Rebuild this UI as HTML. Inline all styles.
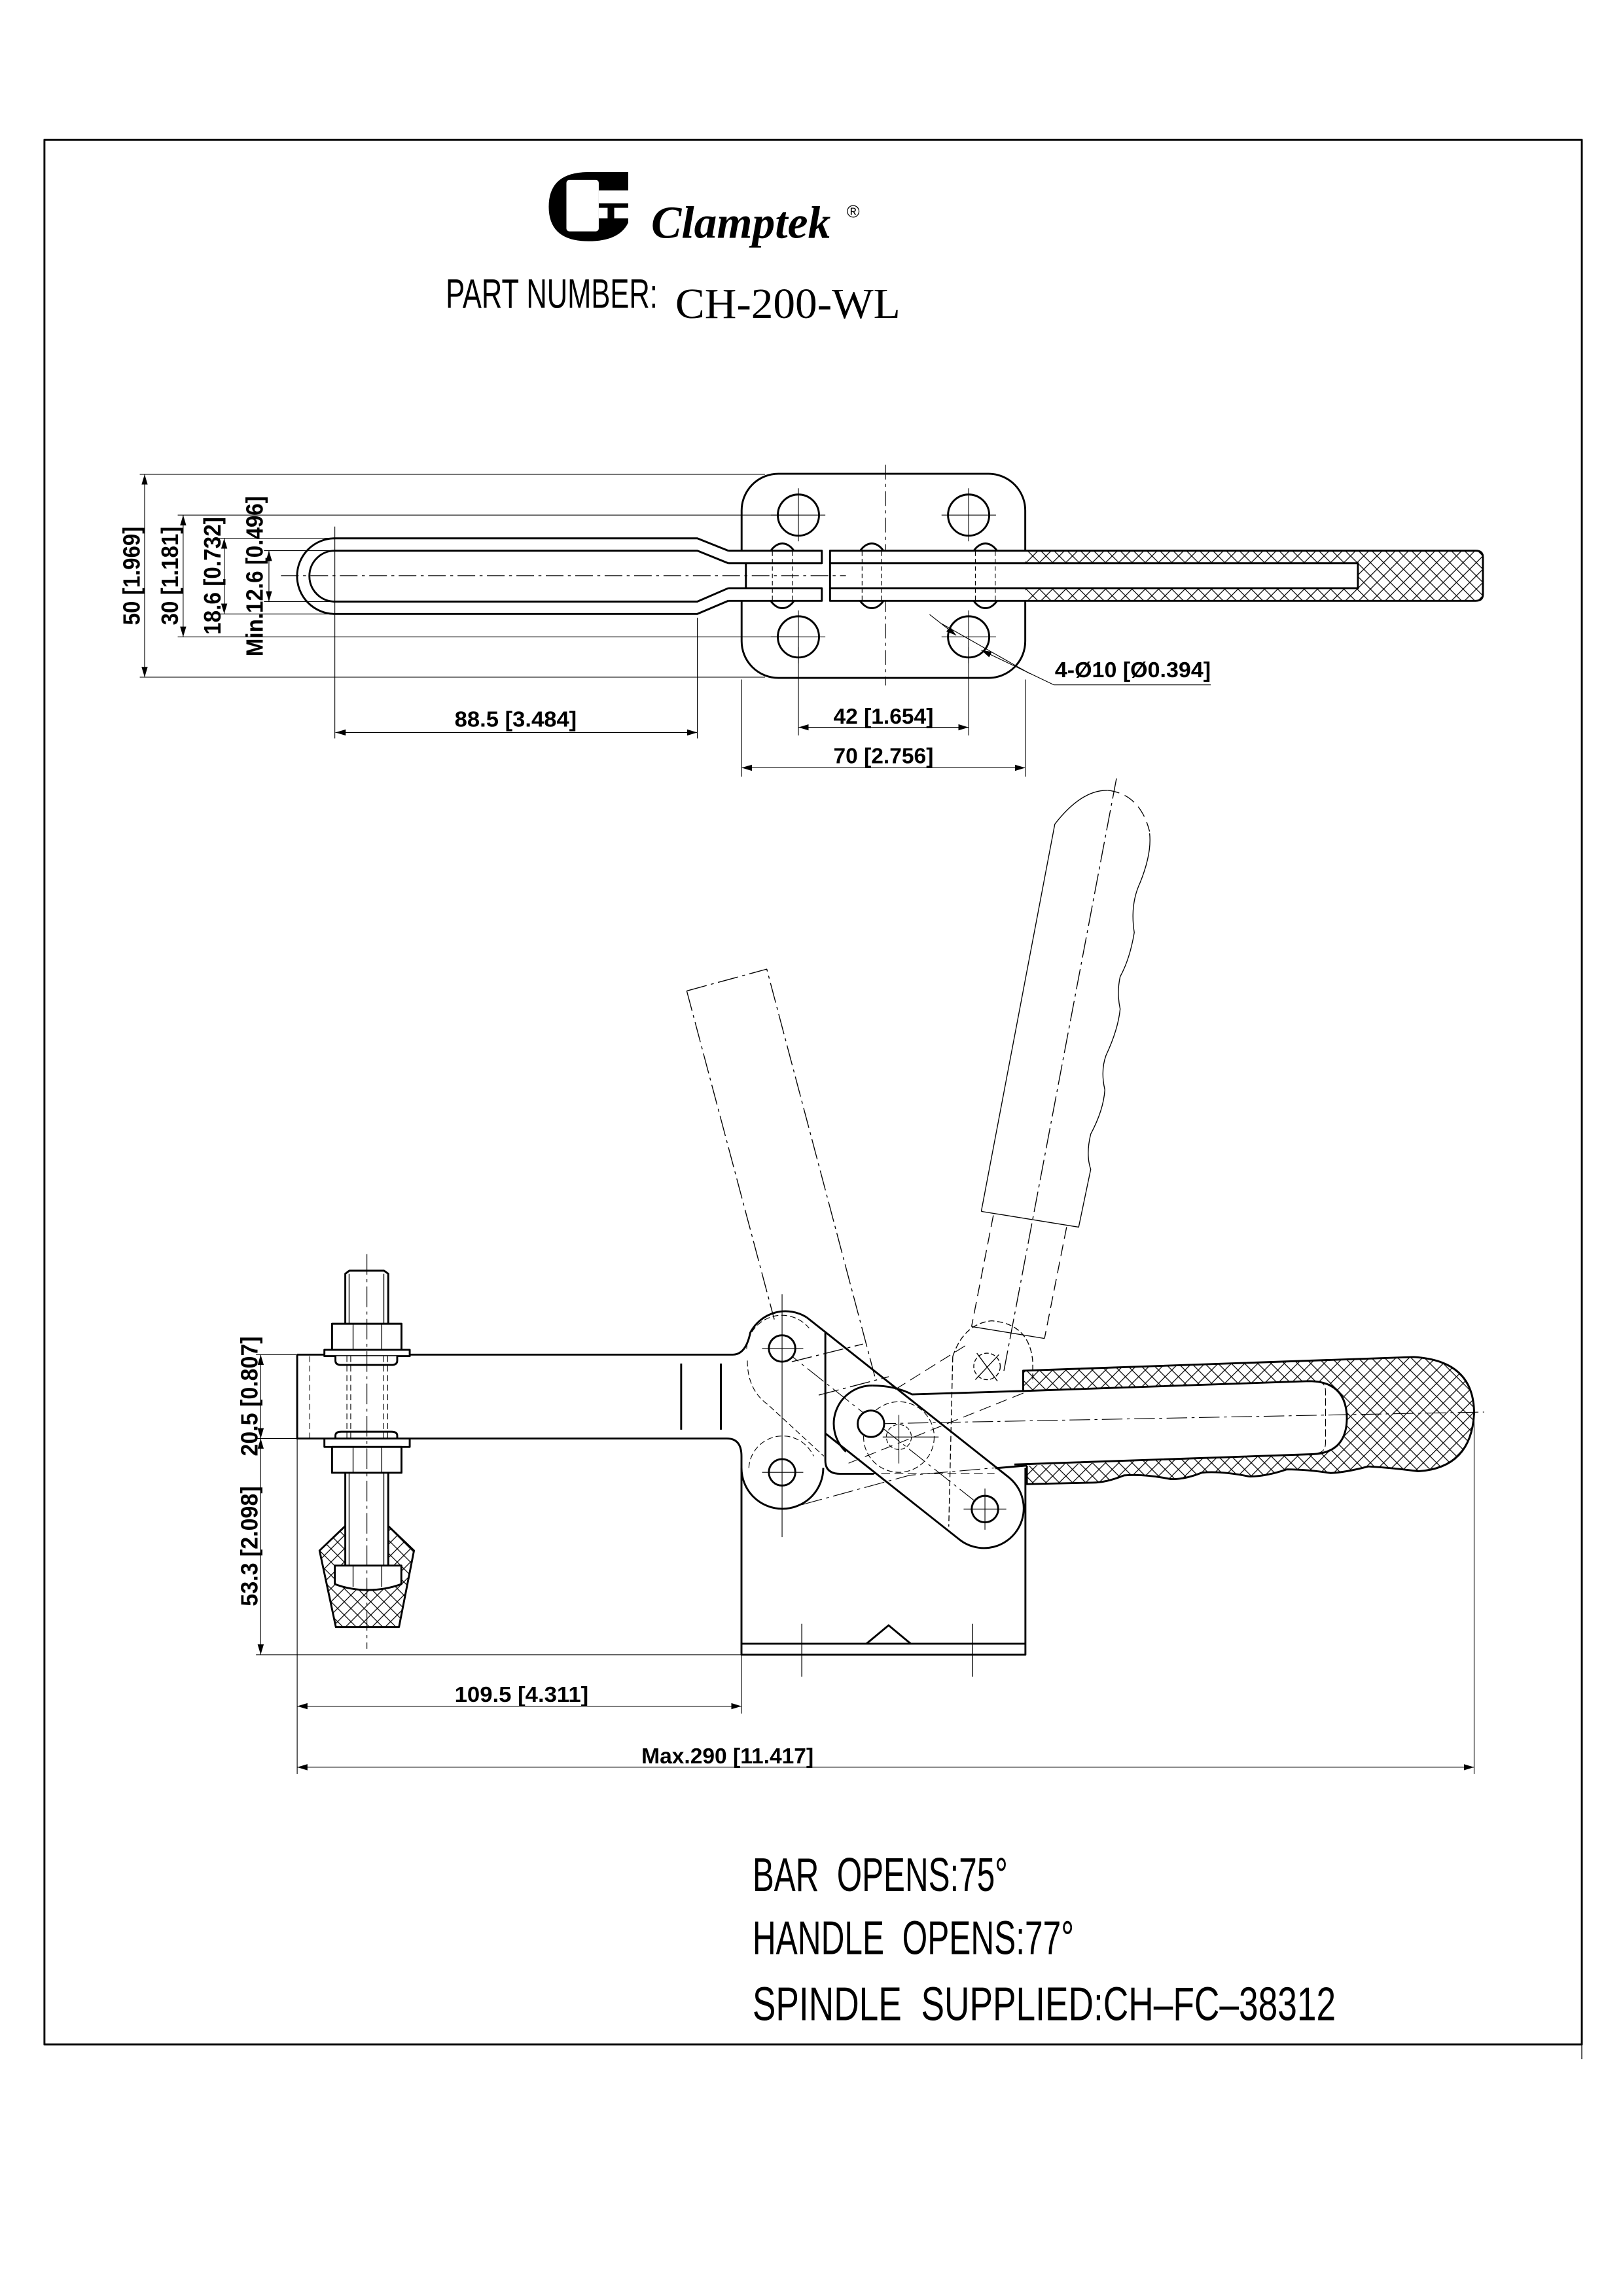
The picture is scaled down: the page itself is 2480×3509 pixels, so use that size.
<!DOCTYPE html>
<html><head><meta charset="utf-8"><style>html,body{margin:0;padding:0;background:#fff}svg{display:block}</style></head>
<body>
<svg xmlns="http://www.w3.org/2000/svg" width="2480" height="3509" viewBox="0 0 1103.2 1561" preserveAspectRatio="none">
<defs>
<pattern id="h" patternUnits="userSpaceOnUse" width="9" height="9">
<path d="M0,0 L9,9 M9,0 L0,9 M-1,8 L1,10 M8,-1 L10,1 M-1,1 L1,-1 M8,10 L10,8" stroke="#000" stroke-width="0.55"/>
</pattern>
<marker id="a" viewBox="0 0 10 6" refX="10" refY="3" markerWidth="7" markerHeight="4.5" orient="auto-start-reverse" markerUnits="userSpaceOnUse"><path d="M0,0 L10,3 L0,6 Z" fill="#000"/></marker>
</defs>
<rect x="0" y="0" width="1103.2" height="1561" fill="#fff"/>
<g fill="none" stroke="#000" stroke-linejoin="round">
<rect x="30.2" y="95" width="1045" height="1295" stroke-width="1.3"/>
<line x1="1075.2" y1="1390" x2="1075.2" y2="1400" stroke-width="0.6"/>

<g stroke-width="0.5">
<line x1="95" y1="322.5" x2="520" y2="322.5"/>
<line x1="95" y1="460.4" x2="520" y2="460.4"/>
<line x1="120.8" y1="350.2" x2="543" y2="350.2"/>
<line x1="120.8" y1="433" x2="543" y2="433"/>
<line x1="149" y1="366" x2="228" y2="366"/>
<line x1="149" y1="417.4" x2="228" y2="417.4"/>
<line x1="179.4" y1="374.4" x2="228" y2="374.4"/>
<line x1="179.4" y1="409" x2="228" y2="409"/>
<line x1="98.3" y1="322.5" x2="98.3" y2="460.4" marker-start="url(#a)" marker-end="url(#a)"/>
<line x1="124.5" y1="350.2" x2="124.5" y2="433" marker-start="url(#a)" marker-end="url(#a)"/>
<line x1="152.4" y1="366" x2="152.4" y2="417.4" marker-start="url(#a)" marker-end="url(#a)"/>
<line x1="182.8" y1="374.4" x2="182.8" y2="409" marker-start="url(#a)" marker-end="url(#a)"/>
<line x1="227.6" y1="358" x2="227.6" y2="502"/>
<line x1="474" y1="420" x2="474" y2="502"/>
<line x1="228" y1="498" x2="474" y2="498" marker-start="url(#a)" marker-end="url(#a)"/>
<line x1="542.7" y1="440" x2="542.7" y2="500"/>
<line x1="658.4" y1="440" x2="658.4" y2="500"/>
<line x1="542.7" y1="494.5" x2="658.4" y2="494.5" marker-start="url(#a)" marker-end="url(#a)"/>
<line x1="504.1" y1="462" x2="504.1" y2="528"/>
<line x1="696.9" y1="462" x2="696.9" y2="528"/>
<line x1="504.1" y1="522" x2="696.9" y2="522" marker-start="url(#a)" marker-end="url(#a)"/>
<line x1="631.9" y1="417.8" x2="650" y2="432" marker-end="url(#a)"/>
<line x1="716.3" y1="465.6" x2="667" y2="442" marker-end="url(#a)"/>
<polyline points="716.3,465.6 823,465.6"/>
<line x1="640" y1="424" x2="700" y2="458"/>
</g>
<rect x="504.1" y="322.1" width="192.8" height="138.8" rx="25" stroke-width="1.3"/>
<line x1="602" y1="316" x2="602" y2="466" stroke-width="0.5" stroke-dasharray="10,3,2,3"/>
<g stroke-width="1.3">
<circle cx="542.7" cy="350.2" r="14"/><circle cx="658.4" cy="350.2" r="14"/>
<circle cx="542.7" cy="433" r="14"/><circle cx="658.4" cy="433" r="14"/>
<ellipse cx="531.8" cy="391.5" rx="12.5" ry="22"/>
<ellipse cx="592.6" cy="391.5" rx="12.5" ry="22"/>
<ellipse cx="669.8" cy="391.5" rx="12.5" ry="22"/>
</g>
<g stroke-width="0.5">
<path d="M524,350.2 H561 M542.7,332 V368 M640,350.2 H677 M658.4,332 V368 M524,433 H561 M542.7,415 V451 M640,433 H677 M658.4,415 V451"/>
</g>
<rect x="498" y="374.4" width="200" height="34.1" fill="#fff" stroke="none"/>
<g stroke-width="1.3">
<path d="M495,374.4 L474,366 L227.6,366 A25.7,25.7 0 0 0 227.6,417.4 L474,417.4 L495,408.5"/>
<path d="M495,382.9 L474,374.4 L227.6,374.4 A17.3,17.3 0 0 0 227.6,409 L474,409 L495,399.9"/>
<path d="M495,374.4 H558.6 V382.9 H495 M495,399.9 H558.6 V408.5 H495"/>
<line x1="507" y1="382.9" x2="507" y2="399.9"/>
<path d="M564.2,374.4 H1003 Q1008,374.4 1008,379 V404 Q1008,408.5 1003,408.5 H564.2 Z"/>
<path d="M564.2,382.9 H923 V399.9 H564.2"/>
</g>
<path d="M696.9,374.4 H1003 Q1008,374.4 1008,379 V404 Q1008,408.5 1003,408.5 H696.9 V399.9 H923 V382.9 H696.9 Z" fill="url(#h)" stroke="none"/>
<g stroke-width="0.5" stroke-dasharray="3,2">
<path d="M525,375 V408 M538.5,375 V408 M586,375 V408 M599,375 V408 M663,375 V408 M676.5,375 V408"/>
</g>
<line x1="191" y1="391.4" x2="575" y2="391.4" stroke-width="0.5" stroke-dasharray="12,3,2,3"/>

<g stroke-width="0.6" stroke-dasharray="14,3,2,3">
<path d="M466.8,673.7 L521.2,658.9 L594.6,935.7 M466.8,673.7 L526.3,897.1"/>
<path d="M538.2,925.8 L586.6,913.8 M556.5,948.5 L604.1,936"/>
</g>
<g stroke-width="0.6">
<path d="M667,823.6 L717,560.3 Q735,537 753,537.3" />
<path d="M753,537.3 Q775,540 781.4,565.3" stroke-dasharray="8,4"/>
<path d="M781.4,566.5 Q783,580 775,600 Q768,615 771,634 Q768,652 761.4,664 Q759,675 761.4,686 Q760,700 751.8,717.5 Q748,728 751,741 Q750,755 741.4,771 Q738,785 741.4,795 L733.2,834.3 L667,823.6"/>
<path d="M675.2,826.3 L660.4,901.9 M725,834.3 L710,909.9" stroke-dasharray="8,4"/>
<path d="M660.4,901.9 L710,910"/>
<path d="M758.9,529.2 L682,934" stroke-dasharray="14,3,2,3"/>
<path d="M647.6,922.3 Q655,900 674,898 Q700,900 702,926 L702,940 M647.6,922.3 L644.9,1037.9" stroke-dasharray="4,2"/>
<circle cx="670.9" cy="929" r="9" stroke-dasharray="3,1.5"/>
<path d="M664,920 L678,939 M679,921 L663,938"/>
</g>
<g stroke-width="0.5">
<path d="M576.8,994.8 L698.4,946" stroke-dasharray="8,4"/>
<path d="M608.6,944.6 L656,915" stroke-dasharray="8,4"/>
<path d="M545.1,1023 L618.3,1003 L676,998" stroke-dasharray="14,3,2,3"/>
<path d="M531.6,916.8 L669.5,1026" stroke-dasharray="14,3,2,3"/>
<circle cx="611" cy="977" r="24" stroke-dasharray="4,2"/>
<circle cx="611" cy="977" r="8.5" stroke-dasharray="3,1.5"/>
<path d="M600,977 H638 M611,962 V995"/>
<path d="M507.5,917 A24,24 0 0 1 550,903" stroke-dasharray="4,2"/>
<path d="M508,925 Q508,945 522,955 L560,990" stroke-dasharray="4,2"/>
<path d="M509,998 A23,23 0 0 1 553,990" stroke-dasharray="4,2"/>
<path d="M590,1002 L676,1002" stroke-dasharray="6,3"/>
</g>
<g stroke-width="1.3">
<path d="M202,921 L498,921 Q507,921 510,906 A27,27 0 0 1 548.3,895.6"/>
<path d="M202,921 V978 H494 Q504,978 504,990 V1125 H697 V998"/>
<line x1="504" y1="1117.5" x2="697" y2="1117.5"/>
<path d="M589,1117.5 L604,1105 L619,1117.5"/>
<line x1="463" y1="927" x2="463" y2="972"/>
<line x1="490" y1="927" x2="490" y2="972"/>
<path d="M504,998 A27.6,27.6 0 0 0 559.6,998"/>
<path d="M548.3,895.6 L686.2,1004.8 A27,27 0 0 1 652.8,1047.2 L561,974.5"/>
<path d="M561,906 V993 Q561,1002 571,1002 H594"/>
<path d="M593,942 A26,26 0 0 0 575,987"/>
<path d="M593,942 Q608,942 620,948 L695.5,945.7"/>
<line x1="676.6" y1="998.2" x2="698" y2="996.4"/>
</g>
<path fill-rule="evenodd" fill="url(#h)" stroke="none" d="M695.5,931.9 L961,922.6 Q1002,925 1002,961 Q1000,998 964,1000.3 Q947,998 930,997 Q915,1001 904.5,1001.5 Q888,999 874.7,999 Q860,1004 849,1003.8 Q830,1000 817,1001.2 Q805,1006 795.8,1005.6 Q778,1002 764,1003.1 Q752,1008 742.7,1008 L698,1009 L698,996.4 L891.7,988.7 Q915.5,988 915.5,963.8 Q915,939 889.6,939 L695.5,945.7 Z"/>
<g stroke-width="1.3">
<path d="M695.5,945.7 V931.9 L961,922.6 Q1002,925 1002,961 Q1000,998 964,1000.3 Q947,998 930,997 Q915,1001 904.5,1001.5 Q888,999 874.7,999 Q860,1004 849,1003.8 Q830,1000 817,1001.2 Q805,1006 795.8,1005.6 Q778,1002 764,1003.1 Q752,1008 742.7,1008 L698,1009 L698,996.4"/>
<path d="M695.5,945.7 L889.6,939 Q915,939 915.5,963.8 Q915.5,988 891.7,988.7 L689.5,995.7"/>
</g>
<path d="M889,939 H894 Q901,939 901,946 V981 Q901,988 894,988" stroke-width="0.5" stroke-dasharray="5,2"/>
<line x1="595" y1="968" x2="1008.8" y2="960" stroke-width="0.5" stroke-dasharray="14,3,2,3"/>
<g stroke-width="1.3" fill="#fff">
<circle cx="531.6" cy="916.8" r="9"/>
<circle cx="531.6" cy="1001" r="9"/>
<circle cx="592" cy="968" r="9"/>
<circle cx="669.5" cy="1026" r="9"/>
</g>
<g stroke-width="0.5">
<path d="M518,916.8 H546 M531.6,880 V1045 M518,1001 H546"/>
<path d="M655,1026 H684 M669.5,1012 V1040"/>
</g>
<line x1="545" y1="1104" x2="545" y2="1140" stroke-width="0.6"/>
<line x1="661" y1="1104" x2="661" y2="1140" stroke-width="0.6"/>

<path d="M228.3,1106.2 L217.2,1054.2 L234.7,1037.5 L263.9,1037.5 L281.4,1054.2 L271.2,1106.2 Z" fill="url(#h)" stroke="#000" stroke-width="1.3"/>
<g stroke-width="1.3" fill="#fff">
<rect x="234.7" y="1001" width="29.2" height="64"/>
<path d="M234.7,900 V866 L237.5,863.9 H261 L263.9,866 V900"/>
<rect x="225.7" y="900" width="47.2" height="17.7"/>
<rect x="220.5" y="917.7" width="58" height="4.3"/>
<path d="M228,922 V925 Q228,928 232,928 H266 Q270,928 270,925 V922"/>
<path d="M228,978 V976 Q228,973.4 232,973.4 H266 Q270,973.4 270,976 V978"/>
<rect x="220.5" y="978" width="58" height="5.7"/>
<rect x="225.7" y="983.7" width="47.2" height="17.6"/>
<path d="M227.6,1064.4 H272.8 V1077 Q262,1081 250,1081 Q238,1081 227.6,1077 Z"/>
</g>
<g stroke-width="0.6">
<path d="M237.3,866 V900 M260.9,866 V900 M237.3,1001 V1064 M260.9,1001 V1064"/>
<path d="M240,900 V917.7 M259.5,900 V917.7 M240,983.7 V1001.3 M259.5,983.7 V1001.3 M240,1064.4 V1079 M259.5,1064.4 V1079"/>
</g>
<g stroke-width="0.5" stroke-dasharray="4,2.5">
<path d="M210.6,922 V978 M235.8,922 V978 M238.4,922 V978 M260.5,922 V978 M263.5,922 V978"/>
</g>
<line x1="249.4" y1="852.7" x2="249.4" y2="1121" stroke-width="0.5" stroke-dasharray="14,3,2,3"/>

<g stroke-width="0.5">
<line x1="174" y1="921" x2="202" y2="921"/>
<line x1="174" y1="978" x2="202" y2="978"/>
<line x1="174" y1="1125" x2="504" y2="1125"/>
<line x1="177.2" y1="921" x2="177.2" y2="978" marker-start="url(#a)" marker-end="url(#a)"/>
<line x1="177.2" y1="978" x2="177.2" y2="1125" marker-start="url(#a)" marker-end="url(#a)"/>
<line x1="202" y1="978" x2="202" y2="1206"/>
<line x1="504" y1="1125" x2="504" y2="1165"/>
<line x1="1002" y1="962" x2="1002" y2="1206"/>
<line x1="202" y1="1160" x2="504" y2="1160" marker-start="url(#a)" marker-end="url(#a)"/>
<line x1="202" y1="1201.5" x2="1002" y2="1201.5" marker-start="url(#a)" marker-end="url(#a)"/>
</g>

<path d="M400,117 L427,117 L427,151.4 Q421,164 400,164 Q373,164 373,140.5 Q373,117 400,117 Z" fill="#000" stroke="none"/>
<rect x="385" y="122.3" width="22" height="35" rx="2" fill="#fff" stroke="none"/>
<rect x="407" y="129.5" width="21" height="8.7" fill="#fff" stroke="none"/>
<rect x="407" y="141.3" width="6" height="7.1" fill="#fff" stroke="none"/>
<rect x="417.5" y="141.3" width="10.5" height="7.1" fill="#fff" stroke="none"/>
</g>

<g font-family="'Liberation Sans', Arial, sans-serif" fill="#000">
<text x="442.6" y="161.6" font-family="'Liberation Serif', serif" font-weight="bold" font-style="italic" font-size="31" textLength="122" lengthAdjust="spacingAndGlyphs">Clamptek</text>
<text x="575.5" y="148" font-size="12">®</text>
<text x="303" y="209.3" font-size="28" textLength="144" lengthAdjust="spacingAndGlyphs">PART NUMBER:</text>
<text x="459" y="216.3" font-family="'Liberation Serif', serif" font-size="29" textLength="153" lengthAdjust="spacingAndGlyphs">CH-200-WL</text>

<g font-weight="bold" font-size="16">
<text transform="translate(95,391.5) rotate(-90)" text-anchor="middle" textLength="67" lengthAdjust="spacingAndGlyphs">50 [1.969]</text>
<text transform="translate(121,391.5) rotate(-90)" text-anchor="middle" textLength="67" lengthAdjust="spacingAndGlyphs">30 [1.181]</text>
<text transform="translate(149.8,391.5) rotate(-90)" text-anchor="middle" textLength="80" lengthAdjust="spacingAndGlyphs">18.6 [0.732]</text>
<text transform="translate(178.7,391.8) rotate(-90)" text-anchor="middle" textLength="109" lengthAdjust="spacingAndGlyphs">Min.12.6 [0.496]</text>
<text transform="translate(175,949.3) rotate(-90)" text-anchor="middle" textLength="81.5" lengthAdjust="spacingAndGlyphs">20.5 [0.807]</text>
<text transform="translate(175,1051.2) rotate(-90)" text-anchor="middle" textLength="81.6" lengthAdjust="spacingAndGlyphs">53.3 [2.098]</text>
</g>
<g font-size="15" font-weight="bold">
<text x="309" y="494" textLength="83" lengthAdjust="spacingAndGlyphs">88.5 [3.484]</text>
<text x="566.5" y="492" textLength="68" lengthAdjust="spacingAndGlyphs">42 [1.654]</text>
<text x="566.5" y="519" textLength="68" lengthAdjust="spacingAndGlyphs">70 [2.756]</text>
<text x="717" y="460.4" textLength="106" lengthAdjust="spacingAndGlyphs">4-Ø10 [Ø0.394]</text>
<text x="309" y="1157" textLength="91" lengthAdjust="spacingAndGlyphs">109.5 [4.311]</text>
<text x="436" y="1199" textLength="117" lengthAdjust="spacingAndGlyphs">Max.290 [11.417]</text>
</g>
<g font-size="32">
<text x="511.5" y="1285.6" textLength="173.5" lengthAdjust="spacingAndGlyphs">BAR&#160;&#160;OPENS:75°</text>
<text x="511.5" y="1328.5" textLength="218.5" lengthAdjust="spacingAndGlyphs">HANDLE&#160;&#160;OPENS:77°</text>
<text x="511.5" y="1373.6" textLength="396.5" lengthAdjust="spacingAndGlyphs">SPINDLE&#160;&#160;SUPPLIED:CH–FC–38312</text>
</g>
</g>
</svg>
</body></html>
